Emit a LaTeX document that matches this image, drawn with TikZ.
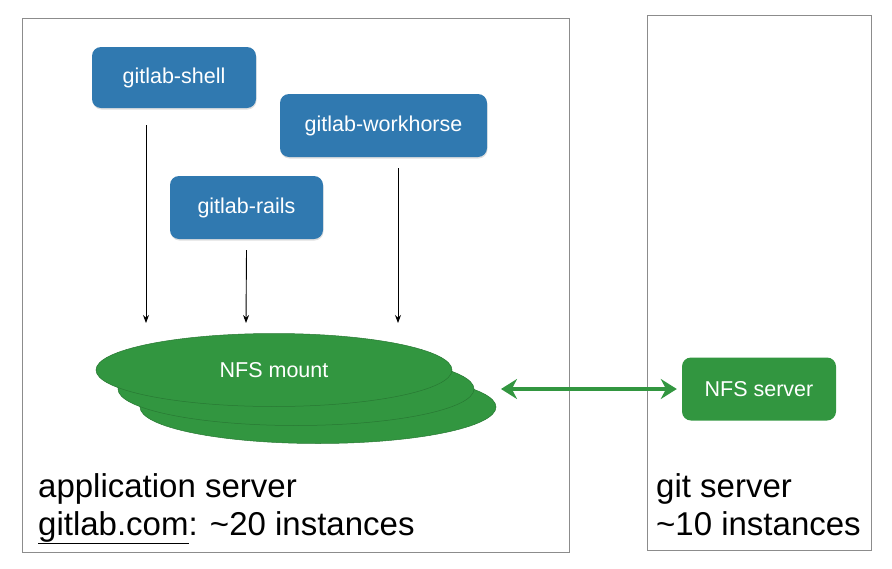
\documentclass[tikz,border=0pt]{standalone}
\usepackage{fontspec}
\setmainfont{Liberation Sans}
\usetikzlibrary{shapes.geometric,arrows.meta,shadows}
\definecolor{boxblue}{RGB}{48,121,176}
\definecolor{nfsgreen}{RGB}{50,150,64}
\definecolor{framegray}{RGB}{140,140,140}
\begin{document}
\begin{tikzpicture}[x=1pt,y=-1pt,
  svc/.style={rectangle,rounded corners=9pt,fill=boxblue,text=white,font=\fontsize{21.5}{24}\selectfont,
    drop shadow={shadow xshift=0.5pt,shadow yshift=-1.5pt,opacity=0.25}},
  disk/.style={ellipse,fill=nfsgreen,draw=black!20!nfsgreen,line width=0.5pt,minimum width=356pt,minimum height=73pt,inner sep=0pt},
  frame/.style={draw=framegray,line width=1pt},
  lbl/.style={anchor=base west,font=\fontsize{33}{38}\selectfont,inner sep=0pt},
  down/.style={-{Stealth[length=8pt,width=6pt]},line width=0.9pt}]
\useasboundingbox (0,0) rectangle (892,568);
\draw[frame] (22,18) rectangle (569,552);
\draw[frame] (647,15) rectangle (871,550);
% services
\node[svc,minimum width=164pt,minimum height=61pt] (shell) at (174,77.5) {gitlab-shell};
\node[svc,minimum width=207pt,minimum height=63pt] (workhorse) at (383.5,125.5) {gitlab-workhorse};
\node[svc,minimum width=153pt,minimum height=63pt] (rails) at (246.5,207.5) {gitlab-rails};
% NFS mounts
\node[disk] (m3) at (318,407) {};
\node[disk] (m2) at (296,389) {};
\node[disk,text=white,font=\fontsize{21.5}{24}\selectfont] (m1) at (274,370) {NFS mount};
% targets
\coordinate (t1) at (146,323);
\coordinate (t2) at (246,323);
\coordinate (t3) at (398,323);
\draw[down] (146,125) -- (t1);
\draw[down] (rails.south) ++(0,11) -- (t2);
\draw[down] (398,168) -- (t3);
% NFS server
\node[rectangle,rounded corners=9pt,fill=nfsgreen,text=white,font=\fontsize{21.5}{24}\selectfont,
  minimum width=154pt,minimum height=63pt] (srv) at (759,389) {NFS server};
\coordinate (a1) at (501,389);
\draw[nfsgreen,line width=3.5pt,{Stealth[length=16pt,width=20pt]}-{Stealth[length=16pt,width=20pt]}] (a1) -- ([xshift=-5pt]srv.west);
% labels
\node[lbl] (app) at (38,497) {application server};
\node[lbl] (inst) at (38,535) {\underline{gitlab.com}: \textasciitilde20 instances};
\node[lbl] (git) at (656,497) {git server};
\node[lbl] (inst2) at (656,535) {\textasciitilde10 instances};
\end{tikzpicture}
\end{document}
